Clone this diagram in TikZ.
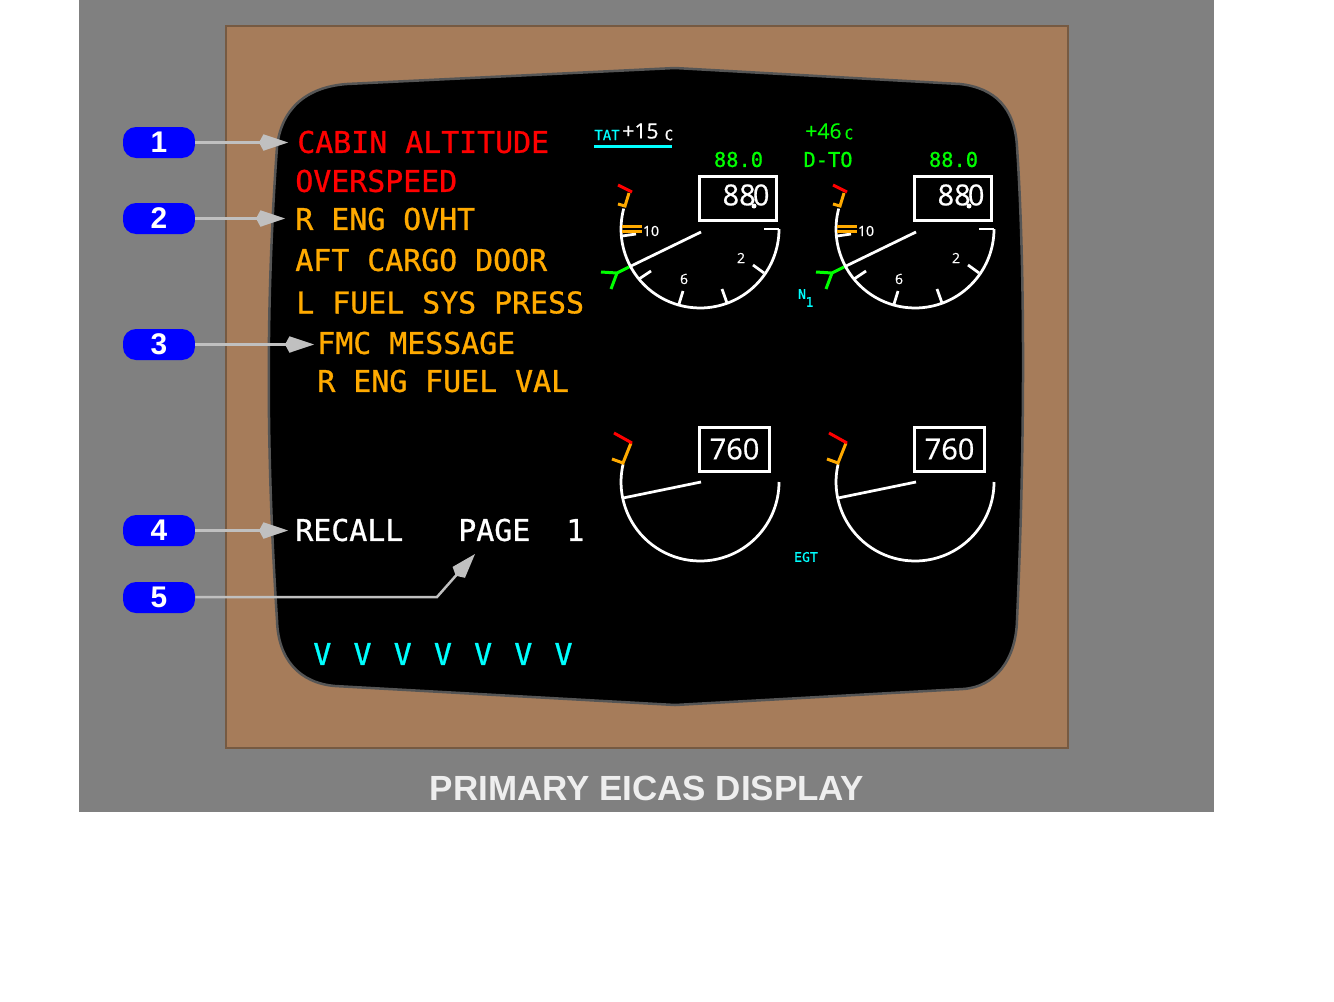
\documentclass[tikz,border=0pt]{standalone}
\usepackage{fontspec}
\usepackage{xcolor}
\setmainfont{Liberation Sans}
\setmonofont[RawFeature={embolden=0.9}]{DejaVu Sans Mono}
\newfontfamily\gaugefont[RawFeature={embolden=0.6}]{Open Sans}
\usetikzlibrary{arrows.meta}
\definecolor{panelgray}{RGB}{128,128,128}
\definecolor{bezel}{RGB}{166,124,90}
\definecolor{bezeledge}{RGB}{118,90,66}
\definecolor{screenedge}{RGB}{85,85,85}
\definecolor{amber}{RGB}{255,170,0}
\definecolor{eicasgreen}{RGB}{0,255,0}
\definecolor{eicascyan}{RGB}{0,255,255}
\definecolor{calloutgray}{RGB}{192,192,192}
\definecolor{titlegray}{RGB}{238,238,238}
\begin{document}
\begin{tikzpicture}[x=0.02cm, y=-0.02cm,
pill/.style={fill=blue, text=white, rounded corners=0.26cm, minimum width=1.44cm, minimum height=0.62cm, inner sep=0pt, font=\fontsize{17}{17}\selectfont\bfseries},
msg/.style={anchor=west, inner sep=0pt, font=\fontsize{17}{17}\ttfamily},
readout/.style={inner sep=0pt, font=\fontsize{11.6}{12}\ttfamily},
small/.style={inner sep=0pt, text=eicascyan, font=\fontsize{7.5}{8}\ttfamily},
callout/.style={draw=calloutgray, line width=0.05cm, -{Kite[length=0.58cm, width=0.33cm, inset=0.09cm, fill=calloutgray]}},
dial/.style={draw=white, line width=0.055cm},
valbox/.style={draw=white, line width=0.06cm, inner sep=0pt, minimum height=0.88cm, font=\fontsize{16.5}{17}\gaugefont, text=white},
scalenum/.style={inner sep=0pt, text=white, font=\fontsize{8}{8}\gaugefont}]
\useasboundingbox (0,0) rectangle (1334,1001);
% panel
\fill[panelgray] (79,0) rectangle (1214,812);
\filldraw[fill=bezel, draw=bezeledge, line width=0.05cm] (226,26) rectangle (1068,748);
\filldraw[fill=black, draw=screenedge, line width=0.05cm] (675,68) -- (960,84)
  .. controls (995,88) and (1015,108) .. (1017,147)
  .. controls (1024,250) and (1026,420) .. (1017,620)
  .. controls (1016,660) and (995,687) .. (963,689)
  -- (675,705) -- (335,686)
  .. controls (300,683) and (278,660) .. (277,620)
  .. controls (266,450) and (266,300) .. (277,147)
  .. controls (281,110) and (305,87) .. (347,84) -- cycle;
\node[text=titlegray, font=\fontsize{19.9}{20}\selectfont\bfseries, inner sep=0pt] (title) at (647,788) {PRIMARY EICAS DISPLAY};
% messages
\node[msg, text=red] (cabin) at (297,142) {CABIN ALTITUDE};
\node[msg, text=red] (over) at (295,181) {OVERSPEED};
\node[msg, text=amber] (reng) at (295,219) {R ENG OVHT};
\node[msg, text=amber] (aft) at (295,260) {AFT CARGO DOOR};
\node[msg, text=amber] (lfuel) at (296,302.5) {L FUEL SYS PRESS};
\node[msg, text=amber] (fmc) at (317,343) {FMC MESSAGE};
\node[msg, text=amber] (rfuel) at (317,381) {R ENG FUEL VAL};
\node[msg, text=white] (recall) at (295,530) {RECALL};
\node[msg, text=white] (page) at (458,530) {PAGE};
\node[msg, text=white] (pagenum) at (566,530) {1};
\foreach \i in {0,...,6}
  \node[msg, text=eicascyan] (stat\i) at (313+40.2*\i,654) {V};
% top readouts
\node[small, font=\fontsize{8}{8}\ttfamily] (tat) at (607,135) {TAT};
\node[inner sep=0pt, text=white, font=\fontsize{12}{13}\gaugefont] (tatval) at (640.5,131) {+15};
\node[small, text=white, font=\fontsize{8}{8}\ttfamily] (tatc) at (669,135) {C};
\draw[eicascyan, line width=0.05cm] (594,146.5) -- (672,146.5);
\node[inner sep=0pt, text=eicasgreen, font=\fontsize{12}{13}\gaugefont] (satval) at (823.5,131) {+46};
\node[small, text=eicasgreen, font=\fontsize{8}{8}\ttfamily] (satc) at (849,134) {C};
\node[readout, text=eicasgreen] (dto) at (828,159.5) {D-TO};
\node[small] (none) at (802,294) {N};
\node[small] (nsub) at (809.5,302) {1};
\node[small] (egt) at (806,557) {EGT};
% gauges
\foreach \gx/\gname in {0/l,215/r}{
\begin{scope}[shift={(\gx,0)}]
\node[readout, text=eicasgreen] (\gname n) at (738.5,159.5) {88.0};
\node[valbox, minimum width=1.54cm] (\gname box) at (737.5,198) {};
\node[inner sep=0pt, text=white, font=\fontsize{16.5}{17}\gaugefont] (\gname val) at (746,195) {88\kern-0.1em0};
\fill[white] (754,206) circle (0.05cm);
\draw[dial] (779,229) arc[start angle=0, end angle=-195, radius=1.58cm];
\draw[dial] (779,229) -- (764,229);
\draw[dial] (622,236) -- (636,234);
\draw[dial] (639,279) -- (651,271);
\draw[dial] (679,304) -- (683,291);
\draw[dial] (727,303) -- (722,289);
\draw[dial] (764,273) -- (753,265);
\draw[dial] (629,267) -- (701,232);
\draw[amber, line width=0.06cm] (622,226) -- (642,226);
\draw[amber, line width=0.06cm] (622,231) -- (642,231);
\draw[amber, line width=0.06cm] (618,204) -- (625,206) -- (629,193);
\draw[red, line width=0.06cm] (618,185) -- (632,192);
\draw[eicasgreen, line width=0.06cm] (629,267) -- (617,273) -- (601,272);
\draw[eicasgreen, line width=0.06cm] (617,273) -- (611,289);
\node[scalenum] (\gname ten) at (651,231) {10};
\node[scalenum] (\gname six) at (684,279) {6};
\node[scalenum] (\gname two) at (741,258) {2};
% egt
\node[valbox, minimum width=1.4cm] (\gname egtbox) at (734.5,449) {760};
\draw[dial] (779,482) arc[start angle=0, end angle=-193, radius=1.58cm];
\draw[dial] (623,498) -- (701,482);
\draw[amber, line width=0.06cm] (612,459) -- (623,463) -- (631,443);
\draw[red, line width=0.06cm] (614,433) -- (632,443);
\end{scope}
}
% callouts
\node[pill] (n1) at (159,142.5) {1};
\node[pill] (n2) at (159,218.5) {2};
\node[pill] (n3) at (159,344.5) {3};
\node[pill] (n4) at (159,530.5) {4};
\node[pill] (n5) at (159,597.5) {5};
\coordinate (bend) at (437,597);
\coordinate (pagetip) at (475,554);
\draw[callout, shorten >=0.18cm] (n1) -- (n1-|cabin.west);
\draw[callout, shorten >=0.2cm] (n2) -- (n2-|reng.west);
\draw[callout, shorten >=0.06cm] (n3) -- (n3-|fmc.west);
\draw[callout, shorten >=0.14cm] (n4) -- (n4-|recall.west);
\draw[callout] (n5.east|-bend) -- (bend) -- (pagetip);
\end{tikzpicture}
\end{document}
